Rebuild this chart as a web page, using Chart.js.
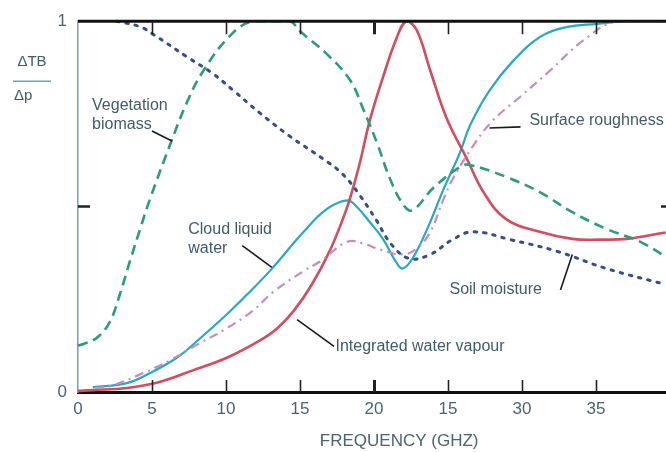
<!DOCTYPE html>
<html>
<head>
<meta charset="utf-8">
<script src="https://cdn.jsdelivr.net/npm/chart.js@4.4.1/dist/chart.umd.min.js"></script>
<style>
  html, body { margin: 0; padding: 0; background: #fff; overflow: hidden; }
  #wrap { width: 666px; height: 452px; overflow: hidden; position: relative; }
  canvas { display: block; }
</style>
</head>
<body>
<div id="wrap"><canvas id="c" width="672" height="452"></canvas></div>
<script>
// ---- data ----
const xTickValues = [0, 5, 10, 15, 20, 25, 30, 35];
const xTickLabels = ['0', '5', '10', '15', '20', '15', '30', '35'];
const yTickValues = [0, 0.5, 1];
const yTickLabels = ['0', '', '1'];

const vegFreq = [0, 0.4, 1.3, 2.16, 2.84, 3.5, 4.2, 4.86, 6.2, 7.4, 8.45, 10.3, 11.8, 14.3, 15, 16.8, 18.4, 19.3, 20.2, 21.1, 22.0, 22.6, 24.0, 25.8, 26.4, 29.0, 31.2, 33.4, 35.7, 38.0, 39.7];
const vegVals = [0.125, 0.13, 0.147, 0.19, 0.265, 0.352, 0.44, 0.52, 0.665, 0.785, 0.865, 0.962, 1.0, 1.0, 0.973, 0.912, 0.84, 0.76, 0.672, 0.573, 0.504, 0.49, 0.55, 0.607, 0.613, 0.579, 0.539, 0.485, 0.44, 0.405, 0.365];

const soilFreq = [2.6, 4.2, 5.07, 7.36, 9.1, 10.5, 12.3, 14.3, 16.55, 17.9, 19.05, 20.1, 21.2, 22.4, 23.8, 25.3, 26.7, 29.2, 32.4, 35.7, 39.7];
const soilVals = [1.0, 0.985, 0.965, 0.904, 0.859, 0.813, 0.752, 0.69, 0.629, 0.587, 0.53, 0.467, 0.397, 0.36, 0.371, 0.411, 0.432, 0.411, 0.379, 0.333, 0.29];

const cloudFreq = [1.0, 3.3, 4.86, 6.7, 8.2, 10.1, 11.4, 13.0, 15.2, 16.8, 18.2, 18.85, 19.7, 20.6, 21.55, 21.95, 22.6, 23.6, 24.7, 25.8, 26.5, 27.8, 29.4, 31.2, 33.0, 35.1, 37.1, 39.7];
const cloudVals = [0.013, 0.024, 0.051, 0.093, 0.143, 0.211, 0.262, 0.328, 0.43, 0.493, 0.517, 0.499, 0.459, 0.413, 0.347, 0.333, 0.36, 0.44, 0.547, 0.645, 0.72, 0.813, 0.893, 0.957, 0.984, 0.993, 1.0, 1.0];

const roughFreq = [1.15, 2.2, 4.4, 6.2, 8.2, 10.1, 11.8, 13.2, 15.2, 16.35, 18.2, 19.3, 20.4, 21.95, 22.9, 23.8, 24.7, 25.3, 26.7, 28.0, 29.9, 31.9, 34.1, 36.35, 39.7];
const roughVals = [0.011, 0.016, 0.051, 0.085, 0.131, 0.173, 0.219, 0.27, 0.325, 0.352, 0.405, 0.4, 0.384, 0.371, 0.387, 0.432, 0.52, 0.573, 0.664, 0.731, 0.797, 0.867, 0.947, 1.0, 1.0];

const vapourFreq = [0, 1.0, 3.3, 5.5, 7.8, 10.1, 12.3, 13.45, 14.6, 15.8, 17.0, 17.9, 18.4, 19.05, 19.7, 20.6, 21.55, 22.2, 22.9, 23.8, 24.9, 26.3, 27.4, 28.9, 31.2, 33.4, 35.3, 37.1, 39.7];
const vapourVals = [0.003, 0.005, 0.011, 0.027, 0.059, 0.093, 0.139, 0.171, 0.22, 0.29, 0.38, 0.467, 0.525, 0.619, 0.73, 0.848, 0.957, 1.0, 0.975, 0.867, 0.739, 0.627, 0.539, 0.467, 0.432, 0.413, 0.411, 0.413, 0.43];

// ---- annotations (data coordinates) ----
const noteTexts = [['Vegetation', 'biomass'], ['Cloud liquid', 'water'], ['Surface roughness'], ['Soil moisture'], ['Integrated water vapour']];
const noteAnchors = [[0.95, 0.773], [7.45, 0.438], [30.5, 0.731], [25.1, 0.277], [17.4, 0.123]];
const leaderLines = [[5.0, 0.704, 6.35, 0.677], [11.1, 0.395, 13.1, 0.336], [27.8, 0.712, 29.9, 0.715], [32.6, 0.275, 33.4, 0.371], [14.8, 0.195, 17.3, 0.123]];

const TEXT = '#3f5c6b';
const FONT = '"Liberation Sans", Arial, sans-serif';

function pts(xs, ys) { return xs.map((x, i) => ({ x: x, y: ys[i] })); }

const decor = {
  id: 'decor',
  afterDatasetsDraw(chart) {
    const ctx = chart.ctx;
    const xs = chart.scales.x, ys = chart.scales.y;
    const a = chart.chartArea;
    ctx.save();
    // top frame line
    ctx.strokeStyle = '#111';
    ctx.lineWidth = 3;
    ctx.beginPath();
    ctx.moveTo(a.left, a.top);
    ctx.lineTo(a.right + 10, a.top);
    ctx.stroke();
    // inward ticks on top and bottom
    xTickValues.forEach(v => {
      if (v === 0) return;
      const px = Math.round(xs.getPixelForValue(v)) + 0.5;
      ctx.lineWidth = v === 20 ? 3 : 1.6;
      ctx.strokeStyle = '#222';
      ctx.beginPath();
      ctx.moveTo(px, a.top);
      ctx.lineTo(px, a.top + 13);
      ctx.moveTo(px, a.bottom);
      ctx.lineTo(px, a.bottom - 12);
      ctx.stroke();
    });
    // left / right mid ticks
    const my = ys.getPixelForValue(0.5);
    ctx.lineWidth = 2.5;
    ctx.strokeStyle = '#222';
    ctx.beginPath();
    ctx.moveTo(a.left, my);
    ctx.lineTo(a.left + 12, my);
    ctx.moveTo(a.right, my);
    ctx.lineTo(a.right - 9, my);
    ctx.stroke();
    // leader lines
    ctx.strokeStyle = '#1a1a1a';
    ctx.lineWidth = 1.6;
    leaderLines.forEach(l => {
      ctx.beginPath();
      ctx.moveTo(xs.getPixelForValue(l[0]), ys.getPixelForValue(l[1]));
      ctx.lineTo(xs.getPixelForValue(l[2]), ys.getPixelForValue(l[3]));
      ctx.stroke();
    });
    // annotation labels
    ctx.fillStyle = TEXT;
    ctx.font = '16px ' + FONT;
    ctx.textAlign = 'left';
    ctx.textBaseline = 'middle';
    noteTexts.forEach((lines, i) => {
      const px = xs.getPixelForValue(noteAnchors[i][0]);
      const py = ys.getPixelForValue(noteAnchors[i][1]);
      lines.forEach((t, j) => ctx.fillText(t, px, py + j * 19));
    });
    // y-axis title as fraction
    ctx.font = '15px ' + FONT;
    ctx.textAlign = 'center';
    ctx.fillText('\u0394TB', a.left - 46, a.top + 41);
    ctx.textAlign = 'left';
    ctx.fillText('\u0394p', a.left - 64, a.top + 75);
    ctx.strokeStyle = '#6aa6b6';
    ctx.lineWidth = 1.5;
    ctx.beginPath();
    ctx.moveTo(a.left - 65, a.top + 60);
    ctx.lineTo(a.left - 27, a.top + 60);
    ctx.stroke();
    // x-axis title
    ctx.font = '17px ' + FONT;
    ctx.textAlign = 'center';
    ctx.fillStyle = '#4a6472';
    ctx.fillText('FREQUENCY (GHZ)', xs.getPixelForValue(21.7), a.bottom + 49);
    ctx.restore();
  }
};

const common = { fill: false, pointRadius: 0, tension: 0.4, clip: false };

new Chart(document.getElementById('c'), {
  type: 'line',
  data: {
    datasets: [
      Object.assign({ label: 'Soil moisture', data: pts(soilFreq, soilVals), borderColor: '#2f4f8f', borderWidth: 3, borderDash: [2.5, 7], borderCapStyle: 'round' }, common),
      Object.assign({ label: 'Surface roughness', data: pts(roughFreq, roughVals), borderColor: '#c98bbd', borderWidth: 2.2, borderDash: [9, 5, 2, 5] }, common),
      Object.assign({ label: 'Vegetation biomass', data: pts(vegFreq, vegVals), borderColor: '#2a9d7c', borderWidth: 2.6, borderDash: [10, 6] }, common),
      Object.assign({ label: 'Integrated water vapour', data: pts(vapourFreq, vapourVals), borderColor: '#d94a5c', borderWidth: 2.6 }, common),
      Object.assign({ label: 'Cloud liquid water', data: pts(cloudFreq, cloudVals), borderColor: '#22aac6', borderWidth: 2.2 }, common)
    ]
  },
  options: {
    responsive: false,
    animation: false,
    events: [],
    layout: { padding: { top: 17, right: 2, left: 0, bottom: 0 } },
    plugins: { legend: { display: false }, tooltip: { enabled: false } },
    scales: {
      x: {
        type: 'linear', min: 0, max: 40,
        afterBuildTicks: s => { s.ticks = xTickValues.map(v => ({ value: v })); },
        afterFit: s => { s.height = 60; },
        ticks: {
          padding: 7, color: '#4a6472', font: { size: 17, family: FONT }, maxRotation: 0,
          callback: (v, i) => xTickLabels[i]
        },
        grid: { display: false, drawTicks: false },
        border: { display: true, color: '#111', width: 3 }
      },
      y: {
        type: 'linear', min: 0, max: 1,
        afterBuildTicks: s => { s.ticks = yTickValues.map(v => ({ value: v })); },
        afterFit: s => { s.width = 78; },
        ticks: {
          padding: 11, color: '#4a6472', font: { size: 17, family: FONT },
          callback: (v, i) => yTickLabels[i]
        },
        grid: { display: false, drawTicks: false },
        border: { display: true, color: '#6aa6b6', width: 1.5 }
      }
    }
  },
  plugins: [decor]
});
</script>
</body>
</html>
